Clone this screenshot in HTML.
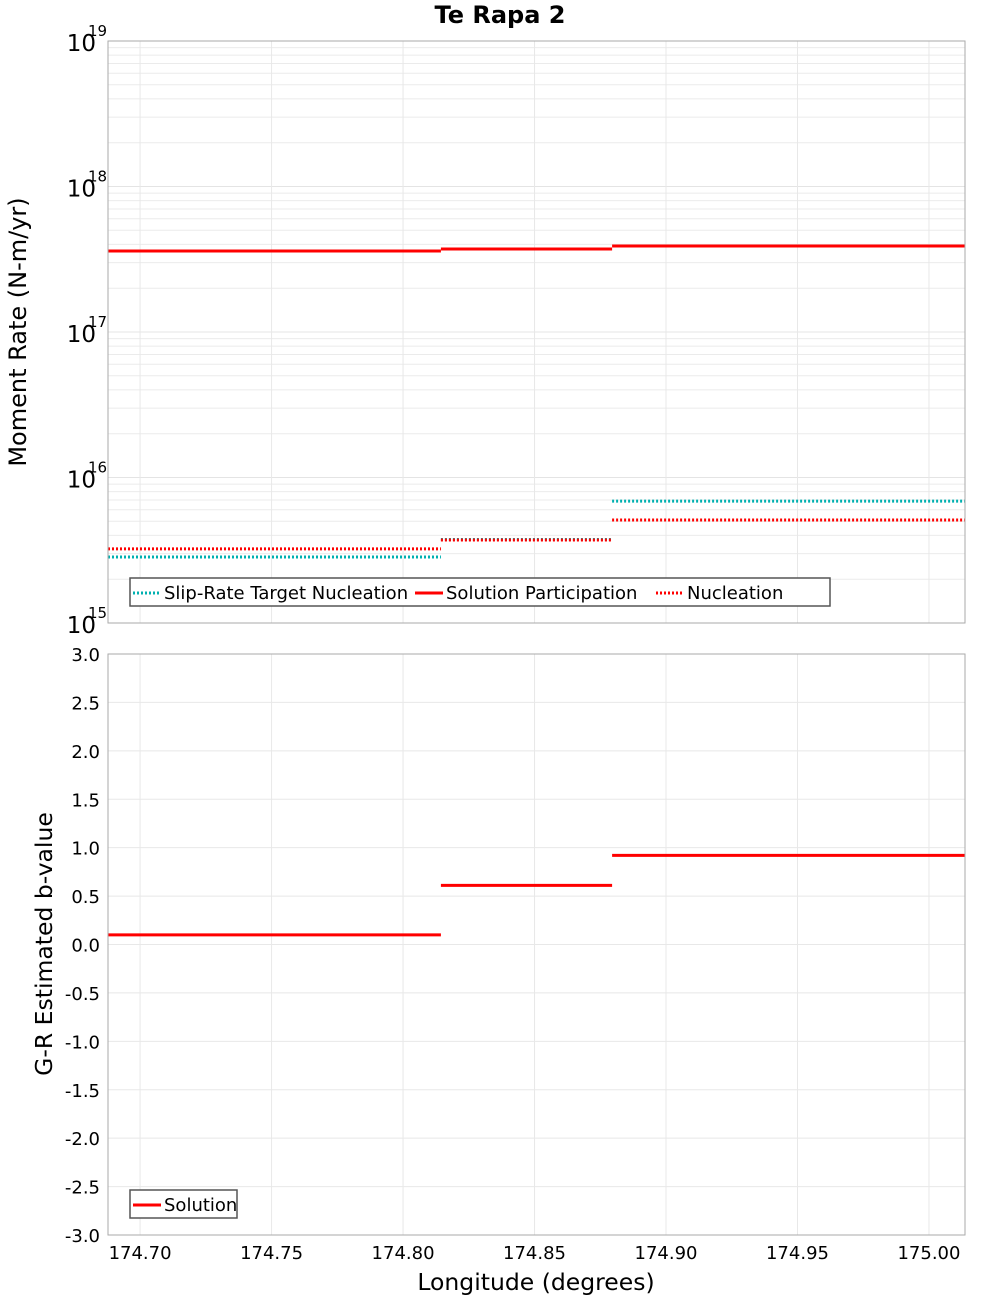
<!DOCTYPE html>
<html><head><meta charset="utf-8"><style>
body{margin:0;background:#fff;}
svg{font-family:"DejaVu Sans","Liberation Sans",sans-serif;}
</style></head><body>
<svg id="chart" width="1000" height="1300" xmlns="http://www.w3.org/2000/svg">
<text x="500" y="23" text-anchor="middle" font-size="24" font-weight="bold">Te Rapa 2</text>
<g id="topPanel"></g>
<g id="botPanel"></g>
<text transform="translate(26,332) rotate(-90)" text-anchor="middle" font-size="24">Moment Rate (N-m/yr)</text>
<text transform="translate(52,944) rotate(-90)" text-anchor="middle" font-size="23.5">G-R Estimated b-value</text>
<text x="536" y="1290" text-anchor="middle" font-size="23.5">Longitude (degrees)</text>
</svg>
<script>
const segEdges=[174.6878,174.8144,174.8795,175.0137];
const slipTarget=[2.84e15,3.75e15,6.88e15];
const participation=[3.6e17,3.72e17,3.9e17];
const nucleation=[3.23e15,3.72e15,5.1e15];
const bValues=[0.1,0.61,0.92];
const xTicks=[174.70,174.75,174.80,174.85,174.90,174.95,175.00];
const xTickLabels=["174.70","174.75","174.80","174.85","174.90","174.95","175.00"];
const bTicks=[3,2.5,2,1.5,1,0.5,0,-0.5,-1,-1.5,-2,-2.5,-3];
const bTickLabels=["3.0","2.5","2.0","1.5","1.0","0.5","0.0","-0.5","-1.0","-1.5","-2.0","-2.5","-3.0"];
const decades=[15,16,17,18,19];
(function(){
const NS="http://www.w3.org/2000/svg";
const L=108,R=965,T1=41,B1=623,T2=654,B2=1235;
const xs=v=>L+(v-174.6878)/(175.0137-174.6878)*(R-L);
const ylog=v=>B1-(Math.log10(v)-15)/4*(B1-T1);
const yb=v=>T2+(3-v)/6*(B2-T2);
function el(p,tag,a){const e=document.createElementNS(NS,tag);for(const k in a)e.setAttribute(k,a[k]);p.appendChild(e);return e;}
const topP=document.getElementById('topPanel'),botP=document.getElementById('botPanel');

for(let d=15;d<19;d++){for(let m=2;m<=9;m++){const y=ylog(m*Math.pow(10,d));
const g=el(topP,'line',{x1:L,x2:R,y1:y,y2:y,stroke:'#ebebeb','stroke-width':1});

}}
decades.forEach(d=>{const y=ylog(Math.pow(10,d));
const g=el(topP,'line',{x1:L,x2:R,y1:y,y2:y,stroke:'#e4e4e4','stroke-width':1});


const t=el(topP,'text',{x:96,y:y+10,'text-anchor':'end','font-size':23});t.textContent='10';


const s=el(topP,'text',{x:88,y:y-5,'font-size':15});s.textContent=String(d);

});
xTicks.forEach((v,i)=>{const x=xs(v);
[[T1,B1,topP],[T2,B2,botP]].forEach(([a,b,p])=>{const g=el(p,'line',{x1:x,x2:x,y1:a,y2:b,stroke:'#e8e8e8','stroke-width':1});

});
const t=el(botP,'text',{x:x,y:1259,'text-anchor':'middle','font-size':18});t.textContent=xTickLabels[i];

});
bTicks.forEach((v,i)=>{const y=yb(v);
const g=el(botP,'line',{x1:L,x2:R,y1:y,y2:y,stroke:'#e8e8e8','stroke-width':1});


const t=el(botP,'text',{x:100,y:y+7,'text-anchor':'end','font-size':18});t.textContent=bTickLabels[i];

});

function steps(p,vals,yf,color,dash,name){vals.forEach((v,i)=>{const y=yf(v);
const a={x1:xs(segEdges[i]),x2:xs(segEdges[i+1]),y1:y,y2:y,stroke:color,'stroke-width':3};
if(dash)a['stroke-dasharray']='2,2';
const l=el(p,'line',a);

});}
steps(topP,slipTarget,ylog,'#00b0b0',true,'slip-rate-target-segment');
steps(topP,nucleation,ylog,'#ff0000',true,'nucleation-segment');
steps(topP,participation,ylog,'#ff0000',false,'participation-segment');
steps(botP,bValues,yb,'#ff0000',false,'b-value-segment');

[[T1,B1,topP],[T2,B2,botP]].forEach(([a,b,p])=>{const f=el(p,'rect',{x:L,y:a,width:R-L,height:b-a,fill:'none',stroke:'#aaaaaa','stroke-width':1});

});

function legend(p,x,y,w,items,name){const g=el(p,'g',{});


el(g,'rect',{x:x,y:y,width:w,height:28,fill:'#fff',stroke:'#555','stroke-width':1.5});
let cx=x+3;items.forEach(it=>{const a={x1:cx,x2:cx+28,y1:y+15,y2:y+15,stroke:it.c,'stroke-width':3};
if(it.d)a['stroke-dasharray']='2,2';el(g,'line',a);
const t=el(g,'text',{x:cx+31,y:y+21,'font-size':18});t.textContent=it.t;


cx+=31+it.w;});}
legend(topP,130,578,700,[{t:'Slip-Rate Target Nucleation',c:'#00b0b0',d:true,w:251},{t:'Solution Participation',c:'#ff0000',d:false,w:210},{t:'Nucleation',c:'#ff0000',d:true,w:120}],'moment-legend');
legend(botP,130,1190,107,[{t:'Solution',c:'#ff0000',d:false,w:80}],'b-value-legend');
})();
</script>
</body></html>
